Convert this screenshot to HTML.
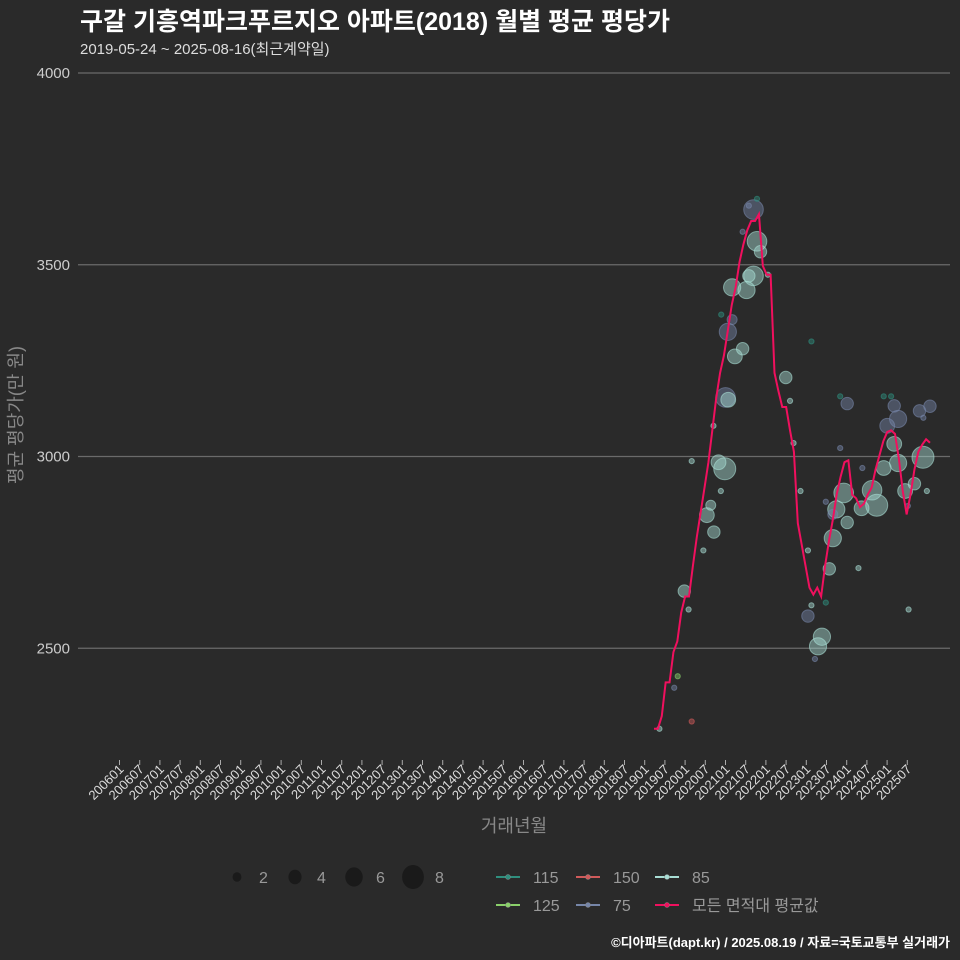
<!DOCTYPE html>
<html><head><meta charset="utf-8"><style>
html,body{margin:0;background:#2a2a2a;overflow:hidden;width:960px;height:960px;}
svg{display:block;}
svg text{font-family:"Liberation Sans","Noto Sans CJK KR",sans-serif;}
</style></head><body>
<svg id="chart" width="960" height="960" viewBox="0 0 960 960" xmlns="http://www.w3.org/2000/svg">
<rect width="960" height="960" fill="#2a2a2a"/>
<text x="80" y="30" fill="#ffffff" font-size="25" font-weight="bold">구갈 기흥역파크푸르지오 아파트(2018) 월별 평균 평당가</text>
<text x="80" y="54" fill="#dddddd" font-size="15">2019-05-24 ~ 2025-08-16(최근계약일)</text>
<g id="grid"></g>
<g id="yaxis"></g>
<g id="xaxis"></g>
<g id="bubbles"></g>
<g id="line"></g>
<text transform="translate(22,415) rotate(-90)" text-anchor="middle" fill="#888" font-size="18">평균 평당가(만 원)</text>
<text x="514" y="832" text-anchor="middle" fill="#888" font-size="18">거래년월</text>
<g id="legend"></g>
<text x="950" y="947" text-anchor="end" fill="#ffffff" font-size="13" font-weight="bold">©디아파트(dapt.kr) / 2025.08.19 / 자료=국토교통부 실거래가</text>
</svg>
<script>
const yTicks=[2500,3000,3500,4000];
const xTickLabels=["200601","200607","200701","200707","200801","200807","200901","200907","201001","201007","201101","201107","201201","201207","201301","201307","201401","201407","201501","201507","201601","201607","201701","201707","201801","201807","201901","201907","202001","202007","202101","202107","202201","202207","202301","202307","202401","202407","202501","202507"];
const lineValues=[2290,2290,2323,2411,2411,2490,2518,2593,2635,2635,2714,2789,2854,2919,2985,3068,3152,3218,3264,3329,3395,3441,3507,3553,3590,3614,3614,3632,3497,3474,3474,3218,3171,3129,3129,3068,3012,2826,2770,2714,2658,2640,2658,2635,2714,2779,2835,2901,2947,2985,2990,2900,2891,2868,2877,2901,2919,2966,3003,3040,3064,3068,3059,2994,2910,2849,2901,2966,3012,3031,3045,3036];
const bubbleMonth=[25.6,26.5,24.4,22.8,26.5,27.4,25.6,24.4,20.1,23.8,29.3,17.3,20.1,19.0,22.8,20.8,40.5,33.9,18.4,19.1,35.0,15.3,49.7,47.9,59.1,61.0,61.8,62.8,60.0,68.3,71.0,69.3,35.9,47.9,61.8,9.7,16.6,18.2,69.2,62.8,59.1,53.6,17.2,37.7,70.2,48.8,56.1,64.6,67.0,14.6,13.6,46.9,53.4,57.3,44.2,46.0,15.4,49.7,12.7,39.6,46.0,52.6,45.1,7.8,8.9,40.5,44.2,39.6,65.5,43.2,42.2,41.4,6.1,5.2,9.7,1.4,65.3];
const bubbleValue=[3644,3672,3654,3586,3561,3534,3471,3471,3441,3434,3474,3370,3357,3325,3281,3261,3300,3206,3154,3148,3145,3080,3138,3157,3157,3157,3132,3098,3080,3119,3131,3101,3035,3022,3033,2988,2985,2968,2998,2983,2970,2970,2910,2910,2910,2905,2912,2910,2929,2873,2847,2862,2865,2873,2882,2849,2803,2828,2755,2755,2787,2709,2707,2649,2601,2612,2619,2584,2601,2530,2505,2472,2427,2397,2309,2290,2871];
const bubbleCount=[7,1,1,1,7,4,7,4,6,6,1,1,3,6,4,5,1,4,7,5,1,1,4,1,1,1,4,6,5,4,4,1,1,1,5,1,5,8,8,6,5,1,1,1,1,7,7,5,4,3,5,6,5,8,1,3,4,4,1,1,6,1,4,4,1,1,1,4,1,6,6,1,1,1,1,1,1];
const bubbleArea=["75","115","75","75","85","85","85","85","85","85","85","115","75","75","85","85","115","85","75","85","85","85","75","115","115","115","75","75","75","75","75","75","85","75","85","85","85","85","85","85","85","75","85","85","85","85","85","85","85","85","85","85","85","85","75","75","85","85","85","85","85","85","85","85","85","85","115","75","85","85","85","75","125","75","150","85","75"];
const areaFill={"75":"#7686a8","85":"#a8ddd4","115":"#2f8f7e","125":"#8ad06a","150":"#d05a5a"};
const NS="http://www.w3.org/2000/svg";
const yS=v=>73+(4000-v)*0.3835;
const xS=m=>654+m*3.887;
const xTick=i=>119.5+i*20.2;
const rS=c=>1.4+1.2*c;
function mk(tag,attrs,parent){const e=document.createElementNS(NS,tag);for(const k in attrs)e.setAttribute(k,attrs[k]);parent.appendChild(e);return e;}
const grid=document.getElementById('grid'),ya=document.getElementById('yaxis'),xa=document.getElementById('xaxis');
yTicks.forEach(t=>{
 const l=mk('line',{x1:78,x2:950,y1:yS(t),y2:yS(t),stroke:'#6a6a6a','stroke-width':1.2},grid);
 
 
 const tx=mk('text',{x:70,y:yS(t)+5,'text-anchor':'end',fill:'#cccccc','font-size':15},ya);
 tx.textContent=t;
 
 
});
xTickLabels.forEach((lab,i)=>{
 const x=xTick(i);
 const tk=mk('line',{x1:x,x2:x,y1:760,y2:765,stroke:'#aaa','stroke-width':1},xa);
 
 
 const tx=mk('text',{transform:`translate(${x+5},770) rotate(-45)`,'text-anchor':'end',fill:'#dddddd','font-size':13},xa);
 tx.textContent=lab;
 
 
});
const bg=document.getElementById('bubbles');
bubbleMonth.forEach((m,i)=>{
 const c=mk('circle',{cx:xS(m),cy:yS(bubbleValue[i]),r:rS(bubbleCount[i]),fill:areaFill[bubbleArea[i]],'fill-opacity':0.45,stroke:areaFill[bubbleArea[i]],'stroke-opacity':0.6,'stroke-width':1},bg);
 
 
});
const pts=lineValues.map((v,i)=>xS(i)+','+yS(v)).join(' ');
const pl=mk('polyline',{points:pts,fill:'none',stroke:'#f0105e','stroke-width':2},document.getElementById('line'));


const lg=document.getElementById('legend');
[[2,237],[4,295],[6,354],[8,413]].forEach(([c,x])=>{
 const e=mk('ellipse',{cx:x,cy:877,rx:rS(c)*0.9+1,ry:rS(c)+1,fill:'#1a1a1a'},lg);
 
 
 const t=mk('text',{x:x+22,y:883,fill:'#999','font-size':16},lg);
 t.textContent=c;
 
 
});
const legItems=[["115","#2f8f7e",508,877],["150","#d05a5a",588,877],["85","#a8ddd4",667,877],["125","#8ad06a",508,905],["75","#7686a8",588,905],["모든 면적대 평균값","#f0105e",667,905]];
legItems.forEach(([lab,col,x,y])=>{
 const g=mk('g',{},lg);
 
 
 mk('line',{x1:x-12,x2:x+12,y1:y,y2:y,stroke:col,'stroke-width':2},g);
 mk('circle',{cx:x,cy:y,r:2.5,fill:col,stroke:'#888','stroke-width':0.5},g);
 const t=mk('text',{x:x+25,y:y+6,fill:'#999','font-size':16},g);
 t.textContent=lab;
});
</script>
</body></html>
